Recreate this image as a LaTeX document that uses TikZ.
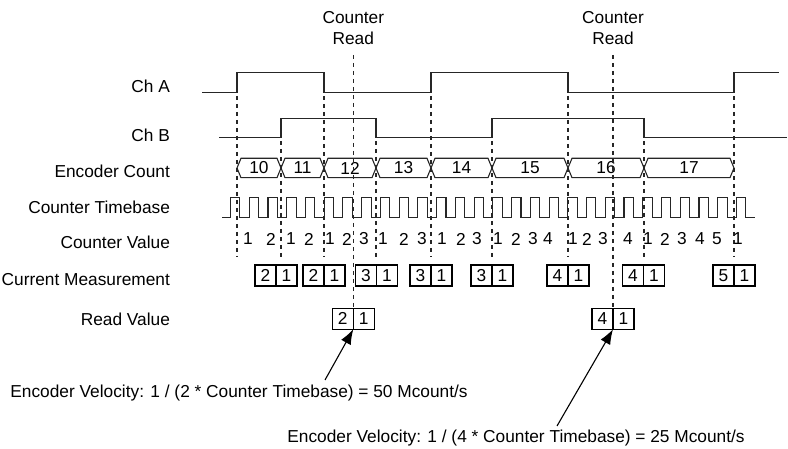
\documentclass[tikz,border=0pt]{standalone}
\usepackage{fontspec}
\setmainfont{Liberation Sans}
\usetikzlibrary{positioning, arrows.meta}

\begin{document}
\begin{tikzpicture}[x=0.5pt, y=-0.5pt,
  every node/.style={font=\fontsize{8.65}{10.5}\selectfont},
  sig/.style={line width=0.7pt, draw=black!85},
  clk/.style={line width=0.55pt, draw=black!85},
  bus/.style={line width=0.55pt, draw=black!85},
  edgeline/.style={line width=0.55pt, dash pattern=on 2pt off 2pt, draw=black!85},
  readline/.style={line width=0.55pt, dash pattern=on 2pt off 2pt, draw=black!85},
  cell/.style={draw, line width=0.55pt, minimum width=10.5pt, minimum height=10.5pt, inner sep=0pt, outer sep=0pt},
  lbl/.style={anchor=east},
  velarrow/.style={line width=0.55pt, -{Latex[length=7.5pt, width=5.5pt]}}]
  \useasboundingbox (0,0) rectangle (788,449);

  % row labels
  \node[lbl] (chA) at (177,86.7) {Ch A};
  \node[lbl] (chB) at (177,135) {Ch B};
  \node[lbl] (enc) at (177,171.7) {Encoder Count};
  \node[lbl] (tb) at (177,207.7) {Counter Timebase};
  \node[lbl] (cv) at (177,242.7) {Counter Value};
  \node[lbl] (cm) at (177,280) {Current Measurement};
  \node[lbl] (rv) at (177,319.3) {Read Value};

  % channels
  \draw[sig] (202,92.7) -- (237,92.7) |- (324,72.3) |- (431,92.7) |- (568,72.3) |- (734,92.7) |- (779,72.3);
  \draw[sig] (219,137.7) -- (281,137.7) |- (376,118.3) |- (492,137.7) |- (644,118.3) |- (787,137.7);

  % edge markers
  \foreach \t/\s in {237/96, 281/141, 324/96, 376/141, 431/96, 492/141, 568/96, 644/141, 734/96}
    \draw[edgeline] (\t,\s) -- (\t,257);

  % encoder count
  \foreach \a/\b/\v in {237/281/10, 281/324/11, 324/376/12, 376/431/13, 431/492/14, 492/568/15, 568/644/16, 644/734/17} {
    \draw[bus] (\a,168) -- (\a+4,158.3) -- (\b-4,158.3) -- (\b,168) -- (\b-4,177.7) -- (\a+4,177.7) -- cycle;
    \node (ec\v) at ({(\a+\b)/2},168) {\v};
  }

  % timebase
  \draw[clk] (222,217.3) -- (230.5,217.3)
    \foreach \k in {0,...,27} { -- ++(0,-20) -- ++(9.37,0) -- ++(0,20) -- ++(9.37,0) };

  % counter value
  \foreach \x/\v [count=\i] in {248/1, 271/2, 291/1, 309/2, 330/1, 347/2, 364/3, 383/1, 404/2, 422/3, 442/1, 461/2, 477/3, 498/1, 516/2, 533/3, 548/4, 573/1, 587/2, 603/3, 628/4, 648/1, 665/2, 682/3, 700/4, 717/5, 738/1}
    \node (cv\i) at (\x,239) {\v};

  % current measurement
  \foreach \v/\d [count=\i] in {2/276, 2/324, 3/376.5, 3/431, 3/492, 4/568, 4/643.5, 5/734} {
    \node[cell] (cm\i) at (\d-10.5,275.5) {\v};
    \node[cell, right=0pt of cm\i] (cm\i-r) {1};
  }

  % read value
  \node[cell] (rv1) at (353.3-10.5,318.8) {2};
  \node[cell, right=0pt of rv1] (rv1-r) {1};
  \node[cell] (rv2) at (613-10.5,318.8) {4};
  \node[cell, right=0pt of rv2] (rv2-r) {1};

  % counter read
  \node[align=center, inner sep=0pt, anchor=south] (cr1) at (353.3,45) {Counter\\Read};
  \node[align=center, inner sep=0pt, anchor=south] (cr2) at (613,45) {Counter\\Read};
  \draw[readline] ([yshift=-5pt]cr1.south) -- (rv1.north east);
  \draw[readline] ([yshift=-5pt]cr2.south) -- (rv2.north east);

  % velocity
  \node[anchor=base west, inner sep=0pt] (vel1) at (10,397) {Encoder Velocity: 1 / (2 * Counter Timebase) = 50 Mcount/s};
  \node[anchor=base west, inner sep=0pt] (vel2) at (287,442) {Encoder Velocity: 1 / (4 * Counter Timebase) = 25 Mcount/s};
  \coordinate (v1) at (325,380);
  \coordinate (v2) at (557,426);
  \draw[velarrow] (v1) -- (rv1.south east);
  \draw[velarrow] (v2) -- (rv2.south east);
\end{tikzpicture}
\end{document}
